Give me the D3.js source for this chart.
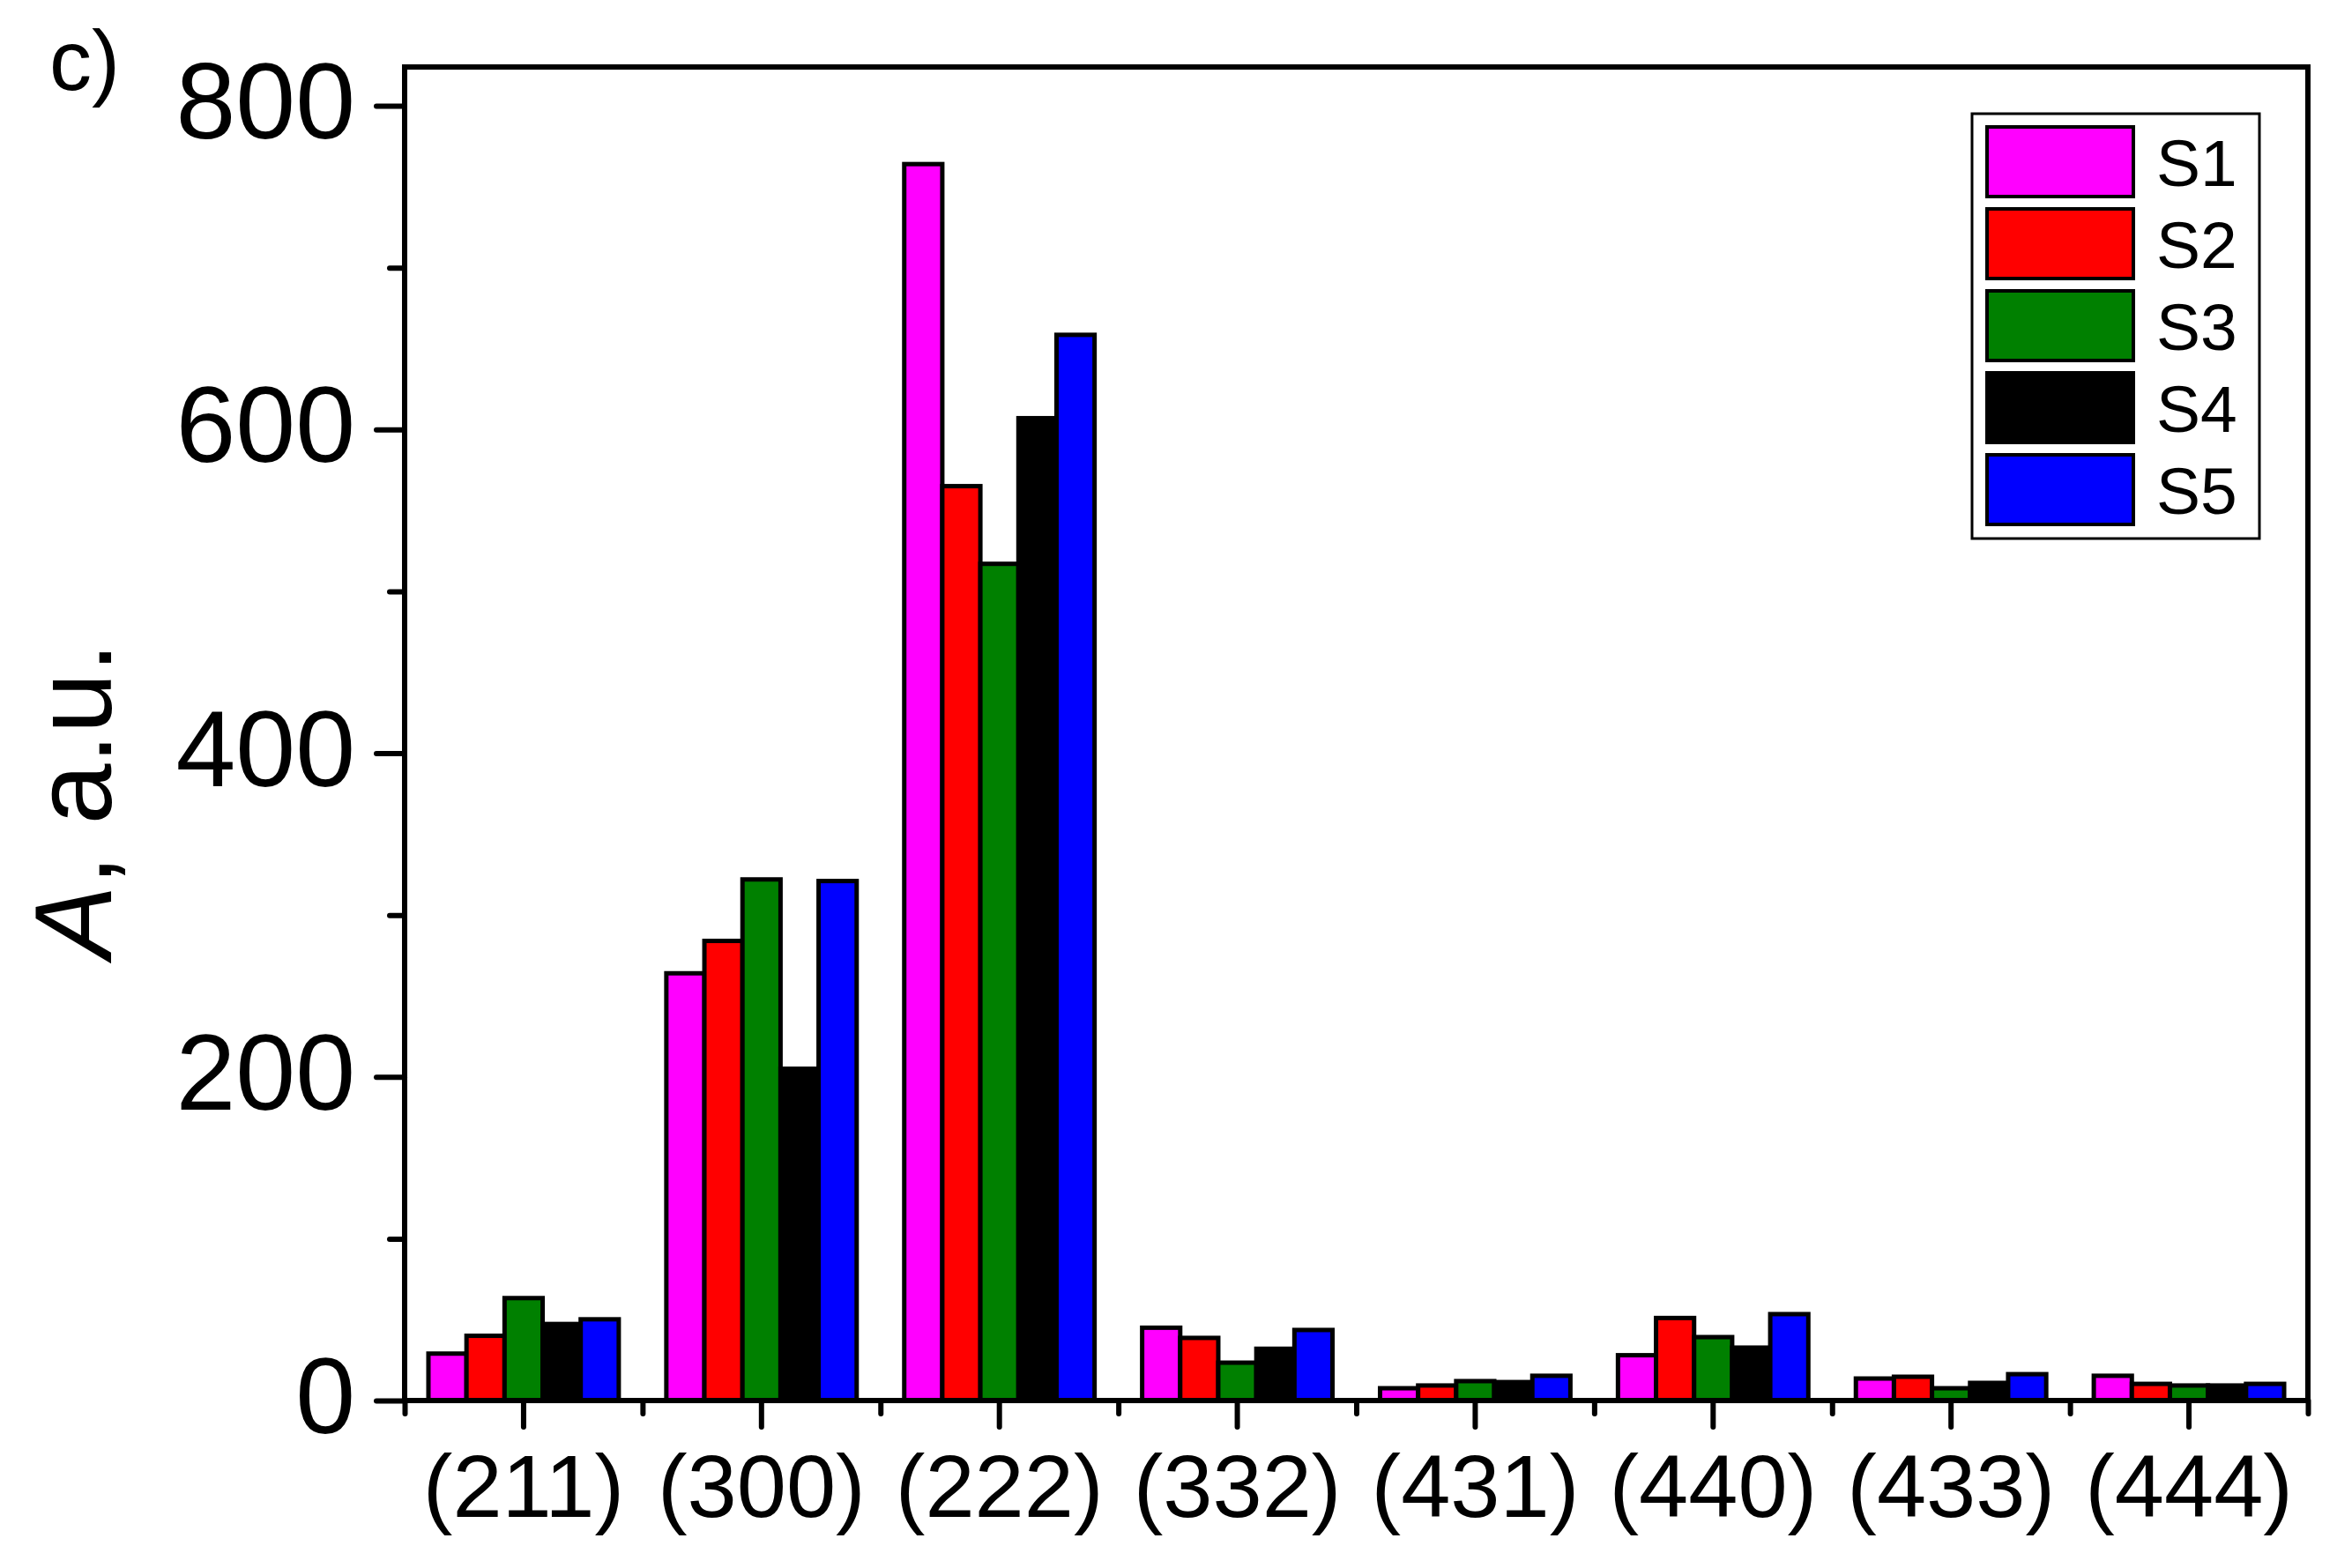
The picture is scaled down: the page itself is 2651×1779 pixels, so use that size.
<!DOCTYPE html>
<html>
<head>
<meta charset="utf-8">
<script src="https://cdn.jsdelivr.net/npm/d3@7"></script>
<style>
  html, body { margin: 0; padding: 0; background: #fff; }
  svg { display: block; }
  text { font-family: "Liberation Sans", Arial, sans-serif; fill: #000; }
</style>
</head>
<body>
<script>
// ---- data ----
const categories = ["(211)", "(300)", "(222)", "(332)", "(431)", "(440)", "(433)", "(444)"];
const seriesNames = ["S1", "S2", "S3", "S4", "S5"];
const seriesColors = ["#FF00FF", "#FF0000", "#008000", "#000000", "#0000FF"];
const S1 = [29, 264, 764, 45, 7.6, 28, 13.6, 15.3];
const S2 = [40, 284, 565, 38.7, 9.3, 51, 14.7, 10.3];
const S3 = [63.3, 322, 517, 23.4, 12, 39.2, 7.6, 9.3];
const S4 = [47.3, 205, 607, 32, 11.4, 32.7, 10.9, 9.3];
const S5 = [50.2, 321, 658.5, 43.6, 15.3, 53.4, 16.3, 10.3];
const seriesValues = [S1, S2, S3, S4, S5];
const yTickValues = [0, 200, 400, 600, 800];
const yMinorTicks = [100, 300, 500, 700];
const yDomain = [0, 824];

// ---- layout ----
const W = 2651, H = 1779;
const m = { left: 459, right: W - 2618, top: 76, bottom: H - 1589 };
const iw = W - m.left - m.right, ih = H - m.top - m.bottom;

const svg = d3.select("body").append("svg").attr("width", W).attr("height", H);
const g = svg.append("g").attr("transform", `translate(${m.left},${m.top})`);

const x = d3.scaleBand().domain(categories).range([0, iw]).paddingInner(0).paddingOuter(0);
const xInner = d3.scaleBand().domain(seriesNames).range([x.bandwidth() * 0.1, x.bandwidth() * 0.9]).padding(0);
const y = d3.scaleLinear().domain(yDomain).range([ih, 0]);
const xBound = d3.scaleLinear().domain([0, categories.length]).range([0, iw]);

// bars
const groups = g.selectAll("g.grp").data(categories).join("g")
  .attr("class", "grp").attr("transform", d => `translate(${x(d)},0)`);
groups.selectAll("rect").data((c, ci) => seriesNames.map((s, si) => ({ s, si, v: seriesValues[si][ci] })))
  .join("rect")
  .attr("x", d => xInner(d.s))
  .attr("width", xInner.bandwidth())
  .attr("y", d => y(d.v))
  .attr("height", d => y(0) - y(d.v))
  .attr("fill", d => seriesColors[d.si])
  .attr("stroke", "#000").attr("stroke-width", 5);

// axes
function styleAxis(sel, sw) {
  sel.select(".domain").remove();
  sel.selectAll(".tick line").attr("stroke", "#000").attr("stroke-width", sw).attr("stroke-linecap", "round");
}
// x major ticks + labels
const xAxis = g.append("g").attr("transform", `translate(0,${ih})`)
  .call(d3.axisBottom(x).tickSize(30).tickPadding(30));
styleAxis(xAxis, 6);
xAxis.selectAll(".tick text").attr("font-size", 101).attr("font-family", "Liberation Sans, Arial, sans-serif");
// x minor ticks at boundaries
const xMinor = g.append("g").attr("transform", `translate(0,${ih})`)
  .call(d3.axisBottom(xBound).tickValues(d3.range(0, categories.length + 1)).tickSize(15).tickFormat(""));
styleAxis(xMinor, 6);

// y major
const yAxis = g.append("g")
  .call(d3.axisLeft(y).tickValues(yTickValues).tickSize(32).tickPadding(24).tickFormat(d3.format("d")));
styleAxis(yAxis, 6);
yAxis.selectAll(".tick text").attr("font-size", 122).attr("dy", "0.3em").attr("font-family", "Liberation Sans, Arial, sans-serif");
// y minor
const yMinorAxis = g.append("g")
  .call(d3.axisLeft(y).tickValues(yMinorTicks).tickSize(17).tickFormat(""));
styleAxis(yMinorAxis, 6);

// frame
g.append("rect").attr("x", 0).attr("y", 0).attr("width", iw).attr("height", ih)
  .attr("fill", "none").attr("stroke", "#000").attr("stroke-width", 6);

// y label
const yl = svg.append("text")
  .attr("transform", `translate(126,908) rotate(-90)`)
  .attr("text-anchor", "middle").attr("font-size", 124);
yl.append("tspan").attr("font-style", "italic").text("A");
yl.append("tspan").text(", a.u.");

// panel label
svg.append("text").attr("x", 56).attr("y", 102).attr("font-size", 96).text("c)");

// legend
const lg = svg.append("g").attr("transform", "translate(2237,129)");
lg.append("rect").attr("width", 326).attr("height", 482).attr("fill", "#fff").attr("stroke", "#000").attr("stroke-width", 3);
const rows = lg.selectAll("g.row").data(seriesNames).join("g")
  .attr("class", "row").attr("transform", (d, i) => `translate(17,${15 + i * 93})`);
rows.append("rect").attr("width", 166).attr("height", 79)
  .attr("fill", (d, i) => seriesColors[i]).attr("stroke", "#000").attr("stroke-width", 4);
rows.append("text").attr("x", 192).attr("y", 67).attr("font-size", 75).text(d => d);
</script>
</body>
</html>
